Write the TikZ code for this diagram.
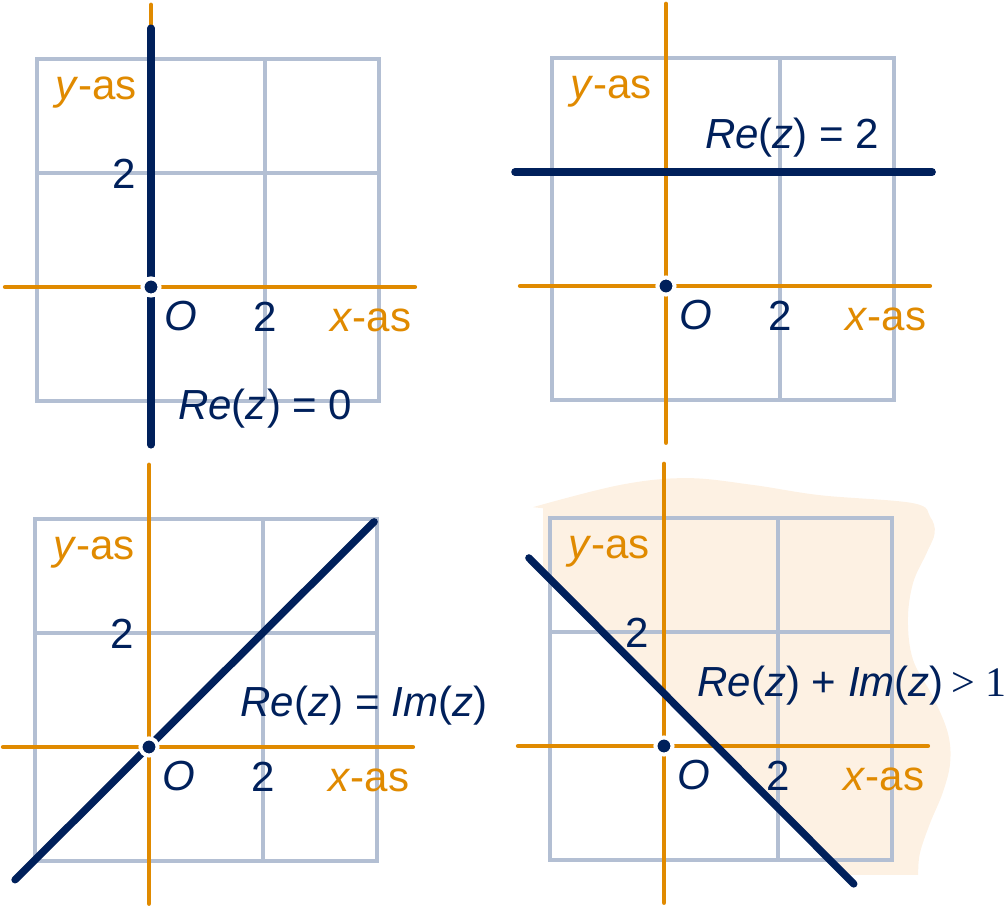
\documentclass[tikz,border=0pt]{standalone}
\usepackage{fontspec}
\setmainfont{Liberation Sans}
\newfontfamily\timesfont{Liberation Serif}
\definecolor{asorange}{HTML}{E08A00}
\definecolor{navy}{HTML}{00205B}
\definecolor{gridgrey}{HTML}{B3BFD3}
\definecolor{areabeige}{HTML}{FDF1E3}

\begin{document}
\begin{tikzpicture}[line cap=round,
    grid line/.style={draw=gridgrey,line width=1.6pt,line cap=rect},
    axis line/.style={draw=asorange,line width=2.2pt},
    main line/.style={draw=navy,line width=3.7pt},
    origin dot/.style={circle,fill=navy,draw=white,line width=2pt,minimum size=0.3cm,inner sep=0pt},
    axis label/.style={text=asorange,font=\fontsize{21}{25}\selectfont,inner sep=0pt},
    main label/.style={text=navy,font=\fontsize{21}{25}\selectfont,inner sep=0pt}]
  \useasboundingbox (0,0) rectangle (17.667,15.93);
  % shaded half plane, lower right
  \begin{scope}[shift={(11.649,2.842)}]
    \fill[areabeige] (-2.12,3.05) -- (-2.12,4.17) -- (-2.30,4.19)
      -- plot[smooth,tension=0.6] coordinates {(-2.30,4.19) (-0.77,4.58) (0.40,4.70)
         (1.56,4.58) (2.74,4.40) (4.37,4.26) (4.67,4.02) (4.75,3.74) (4.61,3.39)
         (4.37,2.86) (4.28,2.21) (4.37,1.51) (4.72,0.86) (4.98,0.23) (5.02,-0.30)
         (4.89,-0.82) (4.67,-1.35) (4.49,-1.88) (4.46,-2.26)}
      -- (3.17,-2.26) -- cycle;
  \end{scope}
  % grid, axes and axis labels
  \foreach \px/\py/\n in {2.649/10.895/a, 11.684/10.912/b, 2.614/2.825/c, 11.649/2.842/d} {
    \begin{scope}[shift={(\px,\py)}]
      \draw[grid line] (-2,-2) grid[step=2] (4,4);
      \draw[axis line] (-2.56,0) -- (4.63,0);
      \draw[axis line] (0,-2.75) -- (0,4.95);
      \node[axis label,anchor=base east] (yas-\n) at (-0.24,3.29) {\textit{y}-as};
      \node[axis label,anchor=base east] (xas-\n) at (4.57,-0.78) {\textit{x}-as};
      \node[main label,anchor=base] (xtwo-\n) at (2,-0.78) {2};
      \node[main label,anchor=base] (o-\n) at (0.52,-0.76) {\textit{O}};
    \end{scope}
  }
  % Re(z) = 0
  \begin{scope}[shift={(2.649,10.895)}]
    \draw[main line] (0,4.54) -- (0,-2.77);
    \node[main label,anchor=base east] (ytwo-a) at (-0.25,1.73) {2};
    \node[main label,anchor=base west] (eq-a) at (0.47,-2.33) {\textit{Re}(\textit{z}) = 0};
  \end{scope}
  % Re(z) = 2
  \begin{scope}[shift={(11.684,10.912)}]
    \draw[main line] (-2.65,2) -- (4.67,2);
    \node[main label,anchor=base west] (eq-b) at (0.68,2.42) {\textit{Re}(\textit{z}) = 2};
  \end{scope}
  % Re(z) = Im(z)
  \begin{scope}[shift={(2.614,2.825)}]
    \draw[main line] (-2.35,-2.33) -- (3.95,3.95);
    \node[main label,anchor=base east] (ytwo-c) at (-0.25,1.73) {2};
    \node[main label,anchor=base west] (eq-c) at (1.60,0.53) {\textit{Re}(\textit{z}) = \textit{Im}(\textit{z})};
  \end{scope}
  % Re(z) + Im(z) > 1
  \begin{scope}[shift={(11.649,2.842)}]
    \draw[main line] (-2.37,3.30) -- (3.33,-2.42);
    \node[main label,anchor=base east] (ytwo-d) at (-0.25,1.73) {2};
    \node[main label,anchor=base west] (eq-d) at (0.58,0.86) {\textit{Re}(\textit{z}) + \textit{Im}(\textit{z})\,{\timesfont > 1}};
  \end{scope}
  % origins
  \foreach \px/\py/\n in {2.649/10.895/a, 11.684/10.912/b, 2.614/2.825/c, 11.649/2.842/d}
    \node[origin dot] (dot-\n) at (\px,\py) {};
\end{tikzpicture}
\end{document}
